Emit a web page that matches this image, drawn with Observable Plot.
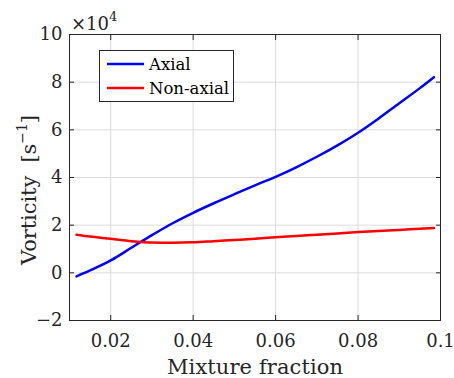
<!DOCTYPE html>
<html><head><meta charset="utf-8">
<script src="https://cdn.jsdelivr.net/npm/d3@7"></script>
<script src="https://cdn.jsdelivr.net/npm/@observablehq/plot@0.6"></script>
<style>body{margin:0;background:#fff;}</style>
</head><body><div id="chart"></div>
<script>
const xAxial = [0.0117, 0.015, 0.02, 0.025, 0.03, 0.035, 0.04, 0.045, 0.05, 0.055, 0.06, 0.065, 0.07, 0.075, 0.08, 0.085, 0.09, 0.095, 0.0984];
const yAxial = [-0.15, 0.1, 0.52, 1.05, 1.58, 2.08, 2.52, 2.92, 3.3, 3.67, 4.03, 4.43, 4.87, 5.35, 5.88, 6.48, 7.12, 7.75, 8.21];
const xNonAxial = [0.0117, 0.015, 0.02, 0.025, 0.03, 0.035, 0.04, 0.045, 0.05, 0.055, 0.06, 0.065, 0.07, 0.075, 0.08, 0.085, 0.09, 0.095, 0.0984];
const yNonAxial = [1.6, 1.52, 1.43, 1.33, 1.27, 1.26, 1.28, 1.33, 1.38, 1.43, 1.49, 1.55, 1.6, 1.65, 1.71, 1.76, 1.8, 1.85, 1.88];
const xTicks = [0.02, 0.04, 0.06, 0.08, 0.1];
const xTickLabels = ["0.02", "0.04", "0.06", "0.08", "0.1"];
const yTicks = [-2, 0, 2, 4, 6, 8, 10];
const seriesNames = ["Axial", "Non-axial"];
const seriesColors = ["#0000ff", "#ff0000"];
const FONT = "DejaVu Serif";

const data = [
  ...xAxial.map((x, i) => ({x, y: yAxial[i], s: seriesNames[0]})),
  ...xNonAxial.map((x, i) => ({x, y: yNonAxial[i], s: seriesNames[1]}))
];

const plot = Plot.plot({
  width: 454, height: 378,
  marginLeft: 69, marginRight: 14, marginTop: 34, marginBottom: 58,
  style: {fontSize: "18px", fontFamily: FONT, color: "#262626", background: "#fff"},
  x: {domain: [0.01, 0.1], label: null},
  y: {domain: [-2, 10], label: null},
  color: {domain: seriesNames, range: seriesColors},
  marks: [
    Plot.gridX(xTicks, {stroke: "#dcdcdc", strokeOpacity: 1}),
    Plot.gridY(yTicks, {stroke: "#dcdcdc", strokeOpacity: 1}),
    Plot.line(data, {x: "x", y: "y", z: "s", stroke: "s", strokeWidth: 2.5, curve: "monotone-x"}),
    Plot.frame({stroke: "#262626", strokeWidth: 1}),
    Plot.axisX({ticks: xTicks, tickSize: -5, tickPadding: 19, tickFormat: (d, i) => xTickLabels[i], fontSize: 18, stroke: "#262626", fill: "#262626", label: null}),
    Plot.axisX({ticks: xTicks, anchor: "top", tickSize: -5, tickFormat: () => "", stroke: "#262626", label: null}),
    Plot.axisY({ticks: yTicks, tickSize: -5, tickPadding: 12, fontSize: 18, stroke: "#262626", fill: "#262626", label: null}),
    Plot.axisY({ticks: yTicks, anchor: "right", tickSize: -5, tickFormat: () => "", stroke: "#262626", label: null})
  ]
});
document.getElementById("chart").appendChild(plot);

const svg = d3.select(plot);
const txt = "#262626";
svg.append("text").attr("x", 255).attr("y", 374).attr("text-anchor", "middle")
  .attr("font-size", 21).attr("fill", txt).attr("textLength", 176).attr("lengthAdjust", "spacing")
  .text("Mixture fraction");
const yl = svg.append("text").attr("transform", "translate(36,190) rotate(-90)").attr("text-anchor", "middle")
  .attr("font-size", 21).attr("fill", txt).attr("textLength", 150).attr("lengthAdjust", "spacing");
yl.append("tspan").text("Vorticity  [s");
yl.append("tspan").attr("font-size", 14).attr("dy", -9).text("−1");
yl.append("tspan").attr("dy", 9).text("]");
const mult = svg.append("text").attr("x", 71).attr("y", 30).attr("text-anchor", "start").attr("font-size", 18).attr("fill", txt);
mult.append("tspan").text("×10");
mult.append("tspan").attr("font-size", 13).attr("dy", -9).text("4");

// legend
const lg = svg.append("g");
lg.append("rect").attr("x", 99.5).attr("y", 50.5).attr("width", 134).attr("height", 51)
  .attr("fill", "#fff").attr("stroke", "#262626").attr("stroke-width", 1);
seriesNames.forEach((name, i) => {
  const yy = 64 + i * 24;
  lg.append("line").attr("x1", 107).attr("x2", 144).attr("y1", yy).attr("y2", yy)
    .attr("stroke", seriesColors[i]).attr("stroke-width", 2.5);
  lg.append("text").attr("x", 149).attr("y", yy).attr("dy", "0.35em").attr("text-anchor", "start").attr("font-size", 16.5)
    .attr("fill", "#000").text(name);
});
svg.style("font-family", FONT);
svg.selectAll("text").attr("font-family", FONT).style("font-family", FONT);
</script></body></html>
